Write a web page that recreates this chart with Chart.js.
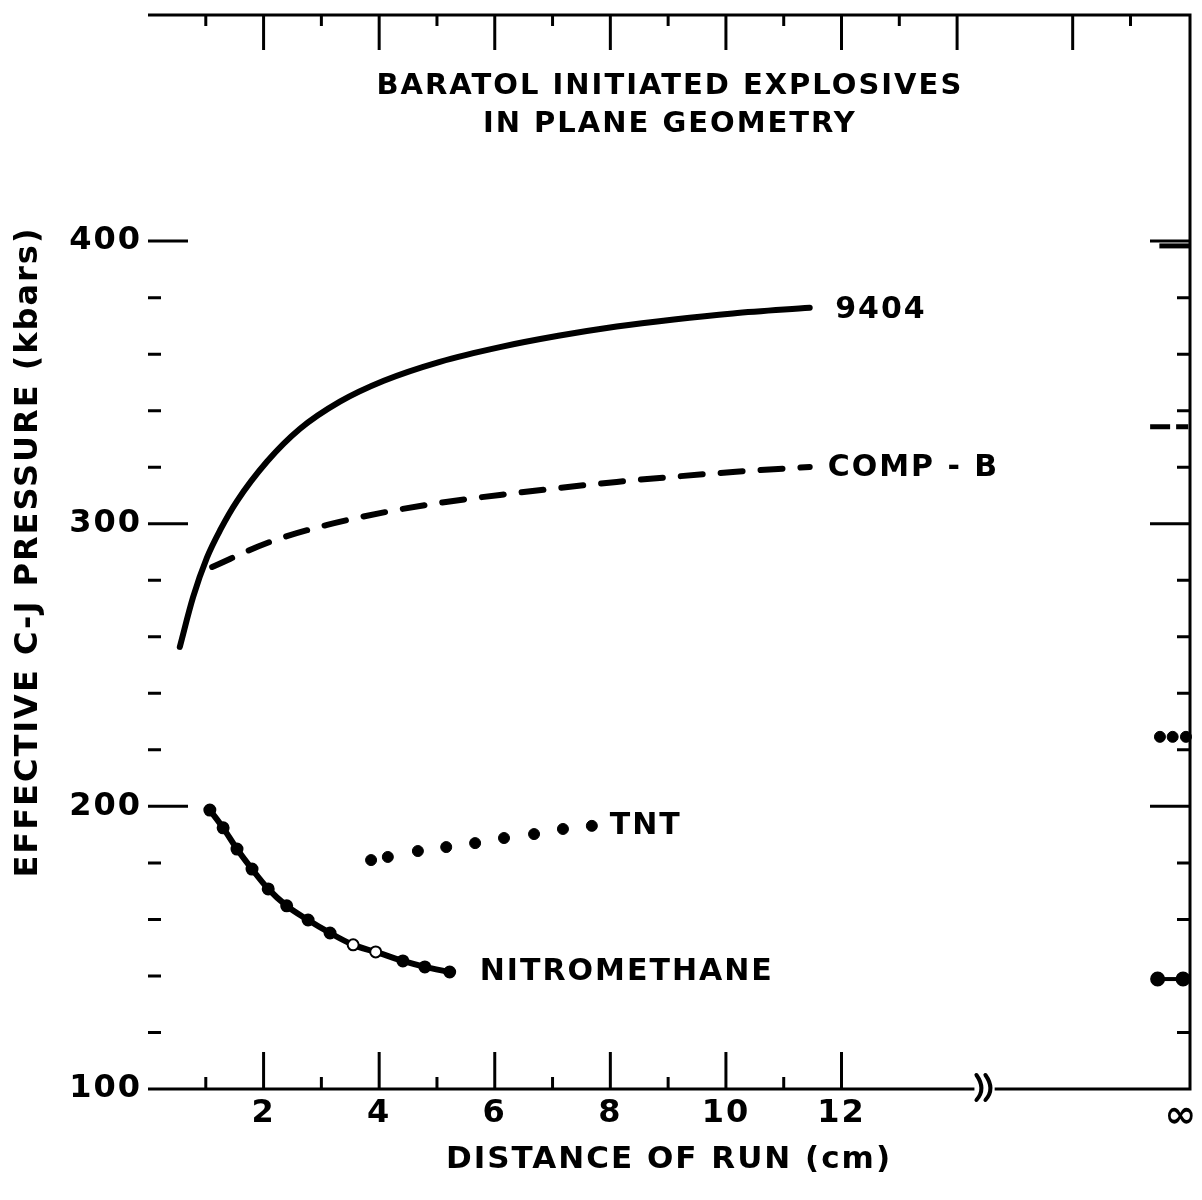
<!DOCTYPE html>
<html>
<head>
<meta charset="utf-8">
<script src="https://cdn.jsdelivr.net/npm/chart.js@4.4.0/dist/chart.umd.min.js"></script>
<style>
  html, body { margin: 0; padding: 0; background: #fff; }
</style>
</head>
<body>
<canvas id="myChart" width="1202" height="1200"></canvas>
<script>
// values
const x9404 = [0.55, 0.78, 1.02, 1.25, 1.54, 2.06, 2.63, 3.32, 4.08, 5.05, 6.09, 7.1, 8.11, 9.1, 10.12, 11.45];
const y9404 = [256.4, 274.0, 288.0, 297.8, 308.0, 322.0, 333.6, 343.2, 350.6, 357.3, 362.5, 366.5, 369.8, 372.3, 374.4, 376.4];

const xCompB = [1.11, 2.06, 3.10, 4.13, 5.05, 6.09, 8.11, 10.12, 11.45];
const yCompB = [284.7, 293.2, 299.6, 304.2, 307.4, 310.2, 314.8, 318.3, 320.1];

const xTNT = [3.86, 4.15, 4.67, 5.16, 5.66, 6.16, 6.68, 7.18, 7.68];
const yTNT = [181.0, 182.1, 184.2, 185.6, 187.0, 188.8, 190.2, 192.0, 193.1];

const xNitro = [1.07, 1.30, 1.54, 1.80, 2.08, 2.40, 2.77, 3.15, 3.55, 3.94, 4.41, 4.79, 5.22];
const yNitro = [198.7, 192.4, 184.9, 177.8, 170.8, 164.8, 159.8, 155.2, 151.0, 148.5, 145.3, 143.2, 141.4];

// values at infinite run distance (right edge)
const xInf9404 = [17.5, 18.03];
const yInf9404 = [398.3, 398.3];
const xInfCompB = [17.34, 18.0];
const yInfCompB = [334.3, 334.3];
const xInfTNT = [17.51, 17.73, 17.96];
const yInfTNT = [224.6, 224.6, 224.6];
const xInfNitro = [17.47, 17.91];
const yInfNitro = [138.9, 138.9];

const yTickLabels = [100, 200, 300, 400];
const xTickLabels = [2, 4, 6, 8, 10, 12];
const xInfinity = 17.88;

const titleLines = ["BARATOL INITIATED EXPLOSIVES", "IN PLANE GEOMETRY"];
const curveLabels = [
  { text: "9404", x: 11.89, y: 375.7 },
  { text: "COMP - B", x: 11.76, y: 319.7 },
  { text: "TNT", x: 7.99, y: 193.1 },
  { text: "NITROMETHANE", x: 5.74, y: 141.4 }
];

function pts(xs, ys) {
  return xs.map((x, i) => ({ x: x, y: ys[i] }));
}

const FONT = "'DejaVu Sans', sans-serif";

// frame, inward ticks, axis break and in-plot text
const framePlugin = {
  id: 'framePlugin',
  beforeDraw(chart) {
    chart.ctx.letterSpacing = '2px';
  },
  afterDraw(chart) {
    const ctx = chart.ctx;
    const a = chart.chartArea;
    const xs = chart.scales.x;
    const ys = chart.scales.y;
    ctx.save();
    ctx.strokeStyle = '#000';
    ctx.lineWidth = 3;
    ctx.lineCap = 'butt';

    const breakL = xs.getPixelForValue(14.3);
    const breakR = xs.getPixelForValue(14.65);

    ctx.beginPath();
    ctx.moveTo(a.left, a.top);
    ctx.lineTo(a.right, a.top);
    ctx.lineTo(a.right, a.bottom);
    ctx.lineTo(breakR, a.bottom);
    ctx.moveTo(breakL, a.bottom);
    ctx.lineTo(a.left, a.bottom);
    ctx.closePath();
    ctx.stroke();

    // axis break "))"
    ctx.lineWidth = 4;
    ctx.lineCap = 'round';
    [breakL + 5, breakL + 14].forEach(bx => {
      ctx.beginPath();
      ctx.moveTo(bx - 3, a.bottom - 14);
      ctx.quadraticCurveTo(bx + 7, a.bottom, bx - 3, a.bottom + 11);
      ctx.stroke();
    });
    ctx.lineCap = 'butt';

    ctx.lineWidth = 3;
    // y ticks, both sides
    for (let v = 120; v <= 400; v += 20) {
      const py = ys.getPixelForValue(v);
      const len = v % 100 === 0 ? 40 : 13;
      ctx.beginPath();
      ctx.moveTo(a.left, py);
      ctx.lineTo(a.left + len, py);
      ctx.moveTo(a.right, py);
      ctx.lineTo(a.right - len, py);
      ctx.stroke();
    }
    // bottom ticks
    for (let v = 1; v <= 12; v++) {
      const px = xs.getPixelForValue(v);
      const len = v % 2 === 0 ? 37 : 12;
      ctx.beginPath();
      ctx.moveTo(px, a.bottom);
      ctx.lineTo(px, a.bottom - len);
      ctx.stroke();
    }
    // top ticks
    for (let v = 1; v <= 17; v++) {
      if (v === 15) continue;
      const px = xs.getPixelForValue(v);
      const len = v % 2 === 0 ? 35 : 11;
      ctx.beginPath();
      ctx.moveTo(px, a.top);
      ctx.lineTo(px, a.top + len);
      ctx.stroke();
    }

    // title inside plot
    ctx.fillStyle = '#000';
    ctx.textAlign = 'center';
    ctx.textBaseline = 'middle';
    ctx.font = 'bold 29px ' + FONT;
    titleLines.forEach((t, i) => {
      ctx.fillText(t, xs.getPixelForValue(9.03), ys.getPixelForValue(454.6 - i * 13.5));
    });

    ctx.textAlign = 'left';
    ctx.font = 'bold 30px ' + FONT;
    curveLabels.forEach(l => {
      ctx.fillText(l.text, xs.getPixelForValue(l.x), ys.getPixelForValue(l.y));
    });
    ctx.restore();
  }
};

const data = {
  datasets: [
    {
      label: "9404",
      data: pts(x9404, y9404),
      showLine: true,
      borderColor: '#000',
      borderWidth: 6,
      pointRadius: 0,
      borderCapStyle: 'round',
      cubicInterpolationMode: 'monotone'
    },
    {
      label: "COMP-B",
      data: pts(xCompB, yCompB),
      showLine: true,
      borderColor: '#000',
      borderWidth: 6,
      borderDash: [22, 18],
      borderCapStyle: 'round',
      pointRadius: 0,
      cubicInterpolationMode: 'monotone'
    },
    {
      label: "TNT",
      data: pts(xTNT, yTNT),
      showLine: false,
      pointRadius: 5.5,
      pointBackgroundColor: '#000',
      pointBorderColor: '#000'
    },
    {
      label: "NITROMETHANE",
      data: pts(xNitro, yNitro),
      showLine: true,
      borderColor: '#000',
      borderWidth: 6,
      pointRadius: 5.5,
      pointBorderWidth: 2,
      pointBackgroundColor: xNitro.map((x, i) => (i === 8 || i === 9) ? '#fff' : '#000'),
      pointBorderColor: '#000',
      cubicInterpolationMode: 'monotone'
    },
    {
      label: "9404 inf",
      data: pts(xInf9404, yInf9404),
      showLine: true,
      borderColor: '#000',
      borderWidth: 5,
      pointRadius: 0
    },
    {
      label: "COMP-B inf",
      data: pts(xInfCompB, yInfCompB),
      showLine: true,
      borderColor: '#000',
      borderWidth: 5,
      borderDash: [20, 6],
      pointRadius: 0
    },
    {
      label: "TNT inf",
      data: pts(xInfTNT, yInfTNT),
      showLine: false,
      pointRadius: 5.5,
      pointBackgroundColor: '#000',
      pointBorderColor: '#000'
    },
    {
      label: "NITROMETHANE inf",
      data: pts(xInfNitro, yInfNitro),
      showLine: true,
      borderColor: '#000',
      borderWidth: 4,
      pointRadius: 5.5,
      pointBackgroundColor: '#000',
      pointBorderColor: '#000'
    }
  ]
};

const config = {
  type: 'scatter',
  data: data,
  options: {
    responsive: false,
    animation: false,
    devicePixelRatio: 1,
    clip: false,
    layout: { padding: { top: 15, right: 12, left: 0, bottom: 0 } },
    plugins: {
      legend: { display: false },
      tooltip: { enabled: false }
    },
    scales: {
      x: {
        type: 'linear',
        min: 0,
        max: 18.03,
        grid: { display: false, drawTicks: false },
        border: { display: false },
        afterBuildTicks(scale) {
          scale.ticks = xTickLabels.concat([xInfinity]).map(v => ({ value: v }));
        },
        afterFit(scale) {
          scale.height = 111;
          scale.paddingLeft = 0;
          scale.paddingRight = 0;
        },
        ticks: {
          padding: 5,
          color: '#000',
          maxRotation: 0,
          autoSkip: false,
          font: c => ({
            family: FONT,
            size: c.tick && c.tick.value === xInfinity ? 38 : 32,
            weight: 'bold'
          }),
          callback: v => v === xInfinity ? '\u221E' : String(v)
        },
        title: {
          display: true,
          text: 'DISTANCE OF RUN (cm)',
          color: '#000',
          padding: { top: 0, bottom: 21 },
          font: { family: FONT, size: 31, weight: 'bold' }
        }
      },
      y: {
        type: 'linear',
        min: 100,
        max: 480,
        grid: { display: false, drawTicks: false },
        border: { display: false },
        afterBuildTicks(scale) {
          scale.ticks = yTickLabels.map(v => ({ value: v }));
        },
        afterFit(scale) {
          scale.width = 148;
          scale.paddingTop = 0;
          scale.paddingBottom = 0;
        },
        ticks: {
          padding: 6,
          color: '#000',
          font: { family: FONT, size: 32, weight: 'bold' }
        },
        title: {
          display: true,
          text: 'EFFECTIVE C-J PRESSURE (kbars)',
          color: '#000',
          padding: { top: 9, bottom: 0 },
          font: { family: FONT, size: 32, weight: 'bold' }
        }
      }
    }
  },
  plugins: [framePlugin]
};

const myChart = new Chart(document.getElementById('myChart'), config);
</script>
</body>
</html>
